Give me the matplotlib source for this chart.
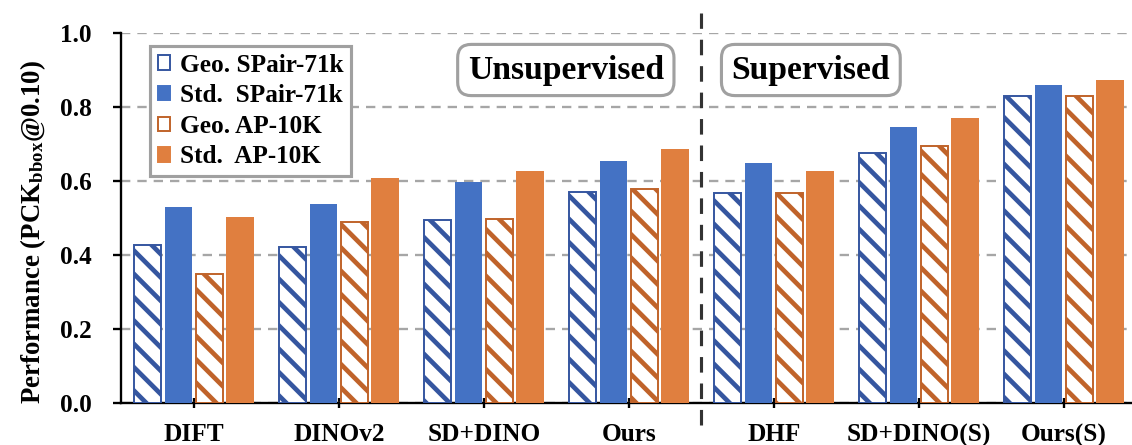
import numpy as np
import matplotlib
matplotlib.use("Agg")
import matplotlib.pyplot as plt
from matplotlib.patches import Patch
from matplotlib.transforms import blended_transform_factory

# ── Data ─────────────────────────────────────────────────────────────────────
methods = ["DIFT", "DINOv2", "SD+DINO", "Ours", "DHF", "SD+DINO(S)", "Ours(S)"]
geo_spair = [0.427, 0.422, 0.495, 0.569, 0.568, 0.677, 0.831]
std_spair = [0.529, 0.538, 0.598, 0.653, 0.648, 0.745, 0.859]
geo_ap10k = [0.348, 0.488, 0.496, 0.578, 0.568, 0.695, 0.829]
std_ap10k = [0.503, 0.607, 0.628, 0.686, 0.626, 0.769, 0.873]
series_labels = ["Geo. SPair-71k", "Std.  SPair-71k", "Geo. AP-10K", "Std.  AP-10K"]
yticks = [0.0, 0.2, 0.4, 0.6, 0.8, 1.0]

BLUE = "#4472C4"
BLUE_DARK = "#3556A0"
ORANGE = "#E07F3F"
ORANGE_DARK = "#C0632A"
GRID = "#A6A6A6"

# dpi 140 -> hatch tile 140 px, stripe spacing close to the reference
DPI = 140
plt.rcParams["font.family"] = "Liberation Serif"
plt.rcParams["font.weight"] = "bold"
plt.rcParams["mathtext.fontset"] = "custom"
plt.rcParams["mathtext.rm"] = "Liberation Serif:bold"
plt.rcParams["mathtext.it"] = "Liberation Serif:bold"
plt.rcParams["mathtext.bf"] = "Liberation Serif:bold"
plt.rcParams["hatch.linewidth"] = 2.4

fig = plt.figure(figsize=(1132 / DPI, 445 / DPI), dpi=DPI)
ax = fig.add_axes([121 / 1132, 42 / 445, 1 - 121 / 1132, 370 / 445])

x = np.arange(len(methods))
slot = 0.213
width = 0.19
offsets = [-1.5 * slot, -0.5 * slot, 0.5 * slot, 1.5 * slot]

# "\\\\" = two backslashes -> denser diagonal stripes
ax.bar(x + offsets[0], geo_spair, width, facecolor="white", edgecolor=BLUE_DARK,
       hatch="\\\\", linewidth=1.0, zorder=3)
ax.bar(x + offsets[1], std_spair, width, color=BLUE, zorder=3)
ax.bar(x + offsets[2], geo_ap10k, width, facecolor="white", edgecolor=ORANGE_DARK,
       hatch="\\\\", linewidth=1.0, zorder=3)
ax.bar(x + offsets[3], std_ap10k, width, color=ORANGE, zorder=3)

ax.set_xlim(-0.503, len(methods) - 0.53)
ax.set_ylim(0, 1.0)
ax.set_yticks(yticks)
ax.set_yticklabels([f"{v:.1f}" for v in yticks])
ax.set_xticks(x)
ax.set_xticklabels(methods)
ax.tick_params(axis="both", labelsize=13, width=1.2, colors="black")
ax.tick_params(axis="y", direction="out", length=4, pad=11)
ax.tick_params(axis="x", direction="inout", length=5, pad=8)
for t in ax.get_xticklabels() + ax.get_yticklabels():
    t.set_fontweight("bold")

for s in ["top", "right"]:
    ax.spines[s].set_visible(False)
for s in ["left", "bottom"]:
    ax.spines[s].set_linewidth(1.2)

ax.grid(axis="y", linestyle=(0, (4, 3)), color=GRID, linewidth=1.2, zorder=0)
ax.set_axisbelow(True)

ax.set_ylabel(r"Performance (PCK$_{\mathrm{bbox}}$@0.10)", fontsize=13.8,
              fontweight="bold")
ax.yaxis.set_label_coords(-0.072, 0.462)

# separator between unsupervised and supervised
tr = blended_transform_factory(ax.transData, ax.transAxes)
ax.plot([3.5, 3.5], [-0.06, 1.055], transform=tr, color="#333333",
        linestyle=(0, (5, 3.5)), linewidth=1.6, clip_on=False, zorder=4)

box = dict(boxstyle="round,pad=0.3,rounding_size=0.4", facecolor="white",
           edgecolor="#A0A0A0", linewidth=1.6)
ax.text(2.565, 0.9, "Unsupervised", ha="center", va="center", fontsize=17.3,
        fontweight="bold", bbox=box, zorder=5)
ax.text(4.255, 0.9, "Supervised", ha="center", va="center", fontsize=17.3,
        fontweight="bold", bbox=box, zorder=5)

handles = [
    Patch(facecolor="white", edgecolor=BLUE_DARK, linewidth=1.0),
    Patch(facecolor=BLUE, edgecolor=BLUE),
    Patch(facecolor="white", edgecolor=ORANGE_DARK, linewidth=1.0),
    Patch(facecolor=ORANGE, edgecolor=ORANGE),
]
leg = ax.legend(handles, series_labels, loc="upper left",
                bbox_to_anchor=(0.0287, 0.965), borderaxespad=0, fontsize=13,
                handlelength=0.5, handleheight=0.5, handletextpad=0.4,
                labelspacing=0.3, borderpad=0.3, fancybox=False,
                framealpha=1, edgecolor="#A0A0A0")
leg.get_frame().set_linewidth(1.6)
for t in leg.get_texts():
    t.set_fontweight("bold")

fig.savefig("out.png", dpi=DPI)
